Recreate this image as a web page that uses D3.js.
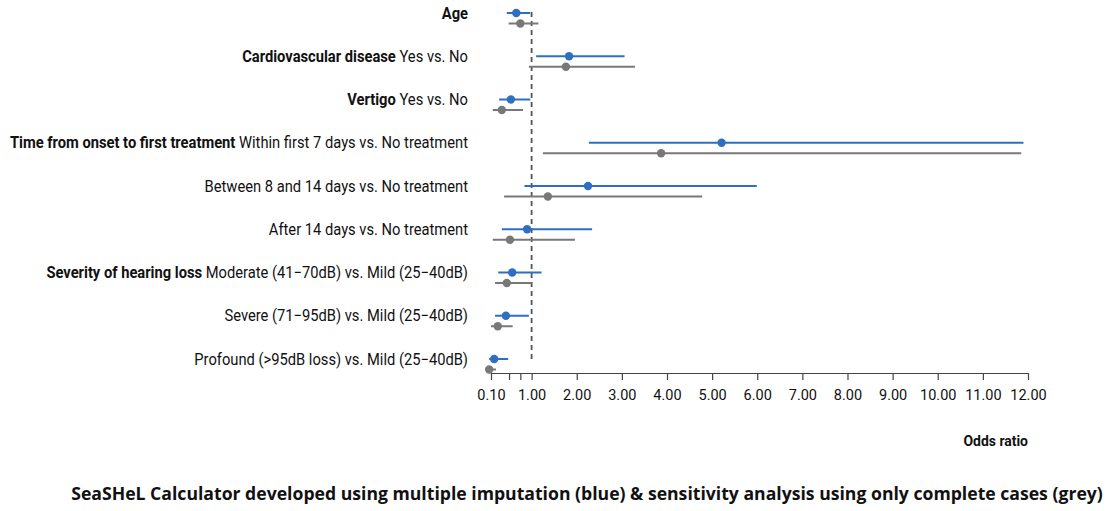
<!DOCTYPE html>
<html>
<head>
<meta charset="utf-8">
<title>Odds ratio forest plot</title>
<script src="https://d3js.org/d3.v7.min.js"></script>
<style>
  body { margin: 0; background: #fff; }
  .lbl { font: 16px Roboto, sans-serif; fill: #111; }
  .lbl .b { font-weight: bold; }
  .axis text { font: 14.5px Roboto, sans-serif; fill: #111; }
  .axis path, .axis line { stroke: #444; stroke-width: 1.2px; }
  .xtitle { font: bold 15.5px Roboto, sans-serif; fill: #111; }
  .caption { font: bold 16px "Open Sans", sans-serif; fill: #111; }
</style>
</head>
<body>
<svg id="chart" width="1112" height="511"></svg>
<script>
// rows: bold group title + plain level text
var groups = ["Age", "Cardiovascular disease", "Vertigo", "Time from onset to first treatment", "", "", "Severity of hearing loss", "", ""];
var levels = ["", "Yes vs. No", "Yes vs. No", "Within first 7 days vs. No treatment", "Between 8 and 14 days vs. No treatment",
  "After 14 days vs. No treatment", "Moderate (41\u221270dB) vs. Mild (25\u221240dB)", "Severe (71\u221295dB) vs. Mild (25\u221240dB)",
  "Profound (>95dB loss) vs. Mild (25\u221240dB)"];

// multiple imputation (blue)
var miOR = [0.66, 1.83, 0.54, 5.21, 2.25, 0.90, 0.57, 0.43, 0.17];
var miLo = [0.45, 1.10, 0.28, 2.27, 0.84, 0.34, 0.26, 0.19, 0.06];
var miHi = [0.97, 3.06, 0.97, 11.90, 5.99, 2.34, 1.22, 0.94, 0.48];

// complete cases (grey)
var ccOR = [0.75, 1.76, 0.34, 3.87, 1.36, 0.52, 0.45, 0.25, 0.06];
var ccLo = [0.49, 0.94, 0.14, 1.25, 0.39, 0.14, 0.19, 0.10, 0.05];
var ccHi = [1.15, 3.29, 0.81, 11.85, 4.78, 1.96, 1.00, 0.58, 0.21];

var tickVals = [0.1, 0.5, 0.75, 1, 2, 3, 4, 5, 6, 7, 8, 9, 10, 11, 12];
var tickLabelVals = [0.1, 1, 2, 3, 4, 5, 6, 7, 8, 9, 10, 11, 12];

var svg = d3.select("#chart");
var blue = "#2f6fc1", grey = "#787878";

var x = d3.scaleLinear().domain([0.1, 12]).range([491, 1028]);
var y = d3.scaleLinear().domain([0, 8]).range([13, 359]);
var off = 10.5;

// reference line at OR = 1
svg.append("line")
  .attr("x1", x(1)).attr("x2", x(1))
  .attr("y1", 12).attr("y2", 360)
  .attr("stroke", "#555").attr("stroke-width", 1.8)
  .attr("stroke-dasharray", "5,4");

// axis
var axis = d3.axisBottom(x)
  .tickValues(tickVals)
  .tickSize(7)
  .tickSizeOuter(0)
  .tickFormat(function(d) { return tickLabelVals.indexOf(d) >= 0 ? d.toFixed(2) : ""; });

var gx = svg.append("g").attr("class", "axis")
  .attr("transform", "translate(0,373)")
  .call(axis);
gx.selectAll("text").attr("dy", "1.15em");

svg.append("text").attr("class", "xtitle")
  .attr("transform", "translate(1028,446) scale(0.9,1)")
  .attr("text-anchor", "end")
  .text("Odds ratio");

function series(or, lo, hi, col, dy) {
  var g = svg.append("g");
  g.selectAll("line").data(or).enter().append("line")
    .attr("x1", function(d, i) { return x(lo[i]); })
    .attr("x2", function(d, i) { return x(hi[i]); })
    .attr("y1", function(d, i) { return y(i) + dy; })
    .attr("y2", function(d, i) { return y(i) + dy; })
    .attr("stroke", col).attr("stroke-width", 2);
  g.selectAll("circle").data(or).enter().append("circle")
    .attr("cx", function(d) { return x(d); })
    .attr("cy", function(d, i) { return y(i) + dy; })
    .attr("r", 4.2)
    .attr("fill", col);
}
series(ccOR, ccLo, ccHi, grey, off);
series(miOR, miLo, miHi, blue, 0);

// row labels, condensed to mimic the original narrow font
levels.forEach(function(lv, i) {
  var t = svg.append("text").attr("class", "lbl")
    .attr("text-anchor", "end")
    .attr("transform", "translate(468," + (y(i) + 5.5) + ") scale(0.92,1)");
  if (groups[i]) t.append("tspan").attr("class", "b").text(groups[i] + (lv ? " " : ""));
  if (lv) t.append("tspan").text(lv);
});

// caption: squeeze horizontally to the width of the original
var cap = svg.append("text").attr("class", "caption")
  .attr("text-anchor", "middle")
  .text("SeaSHeL Calculator developed using multiple imputation (blue) & sensitivity analysis using only complete cases (grey)");
var capW = cap.node().getComputedTextLength();
cap.attr("transform", "translate(587,500) scale(" + (1032 / capW) + ",1.12)");
</script>
</body>
</html>
